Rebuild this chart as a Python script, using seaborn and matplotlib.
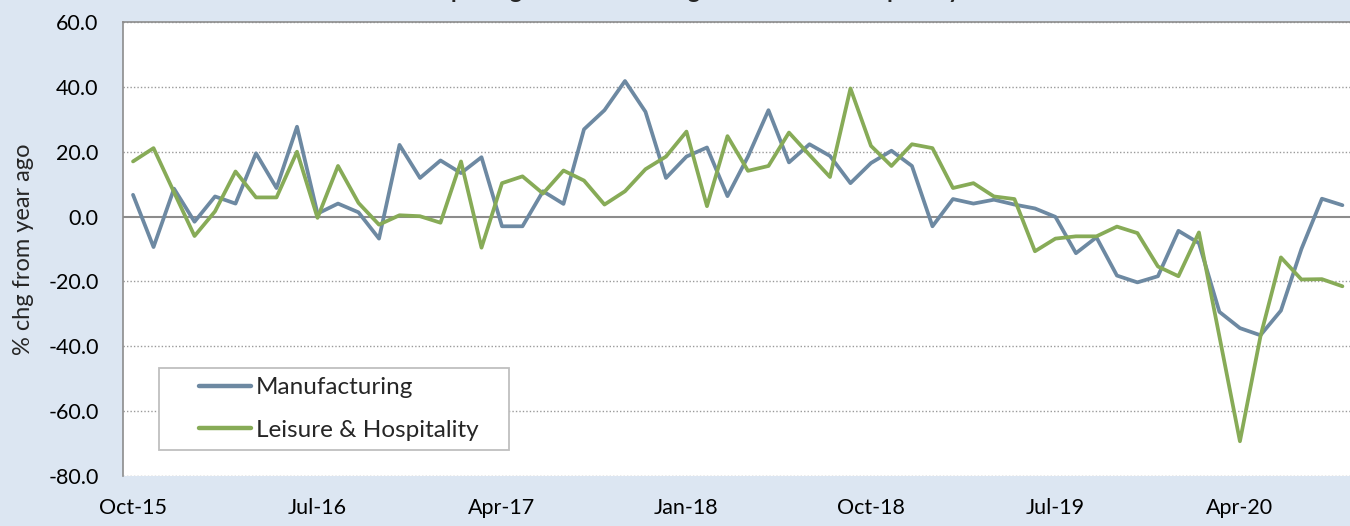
import pandas as pd
import numpy as np
import matplotlib
matplotlib.use('Agg')
import matplotlib.pyplot as plt
from matplotlib.patches import Rectangle
import seaborn as sns

# monthly, Oct-15 .. Sep-20
months = pd.date_range('2015-10-01', periods=60, freq='MS')

manufacturing = [6.7, -9.4, 8.6, -1.6, 6.2, 4.0, 19.5, 8.8, 27.7, 0.9,
                 4.0, 1.3, -6.8, 22.1, 11.9, 17.3, 13.4, 18.3, -3.0, -3.0,
                 7.8, 3.9, 26.9, 32.8, 41.8, 32.3, 11.9, 18.5, 21.3, 6.3,
                 18.5, 32.8, 16.7, 22.3, 18.7, 10.3, 16.5, 20.3, 15.6, -3.0,
                 5.4, 4.0, 5.2, 3.7, 2.5, -0.1, -11.3, -6.4, -18.2, -20.3,
                 -18.4, -4.4, -8.2, -29.4, -34.4, -36.6, -29.0, -10.0, 5.5, 3.5]

leisure = [17.0, 21.1, 7.5, -6.0, 1.6, 13.9, 5.9, 5.9, 20.0, -0.4,
           15.6, 4.2, -2.5, 0.4, 0.1, -1.9, 17.0, -9.6, 10.3, 12.4,
           7.1, 14.2, 11.1, 3.7, 7.8, 14.6, 18.5, 26.2, 3.2, 24.8,
           14.1, 15.6, 25.9, 19.0, 12.2, 39.5, 21.8, 15.6, 22.3, 21.1,
           8.8, 10.3, 6.2, 5.4, -10.7, -6.8, -6.1, -6.1, -3.1, -5.1,
           -15.4, -18.4, -4.9, -37.0, -69.3, -37.0, -12.6, -19.4, -19.3, -21.5]

series_names = ['Manufacturing', 'Leisure & Hospitality']
colors = {'Manufacturing': '#6d89a2', 'Leisure & Hospitality': '#87ab57'}

yticks = [60, 40, 20, 0, -20, -40, -60, -80]
xtick_step = 9

bg = '#dce6f2'
font = 'Lato'

df = pd.DataFrame({'idx': np.arange(len(months)),
                   'Manufacturing': manufacturing,
                   'Leisure & Hospitality': leisure})
df_long = df.melt(id_vars='idx', var_name='series', value_name='value')

sns.set_style('white')
plt.rcParams['font.family'] = [font, 'DejaVu Sans']

fig = plt.figure(figsize=(13.5, 5.26), dpi=100, facecolor=bg)
ax = fig.add_axes([0.0911, 0.0951, 0.9089, 0.8631])
ax.set_facecolor('white')

# gridlines
for y in yticks:
    if y == 0:
        continue
    ax.axhline(y, color='#9a9a9a', lw=1.0, ls=(0, (1, 1.5)), zorder=1)
ax.axhline(0, color='#8c8c8c', lw=1.5, zorder=2)

sns.lineplot(data=df_long, x='idx', y='value', hue='series', hue_order=series_names,
             palette=colors, lw=2.7, ax=ax, legend=False, zorder=3)

ax.set_xlim(-0.49, 59.37)
ax.set_ylim(-80, 60)
ax.set_yticks(yticks)
ax.set_yticklabels([f'{v:.1f}' for v in yticks])
xt = list(range(0, len(months), xtick_step))
ax.set_xticks(xt)
ax.set_xticklabels([months[i].strftime('%b-%y') for i in xt])

ax.tick_params(axis='y', length=6.5, width=1, color='#8c8c8c', pad=11, labelsize=15.5)
ax.tick_params(axis='x', length=0, pad=16, labelsize=15.5)
for lab in ax.get_xticklabels() + ax.get_yticklabels():
    lab.set_color('black')

for s in ['right', 'bottom']:
    ax.spines[s].set_visible(False)
ax.spines['left'].set_color('#8c8c8c')
ax.spines['left'].set_linewidth(1.2)
ax.spines['top'].set_color('#8c8c8c')
ax.spines['top'].set_linewidth(1.2)

ax.set_xlabel('')
ax.set_ylabel('% chg from year ago', fontsize=17, labelpad=10)

# legend
ax.add_patch(Rectangle((0.0293, 0.0573), 0.2852, 0.1806, transform=ax.transAxes,
                       facecolor='white', edgecolor='#bfbfbf', lw=1.3, zorder=4))
handles = [plt.Line2D([], [], color=colors[n], lw=3.2) for n in series_names]
leg = ax.legend(handles, series_names, loc='center left', bbox_to_anchor=(0.046, 0.1476),
                frameon=False, fontsize=17.5, handlelength=2.15, handletextpad=0.2,
                labelspacing=0.89, borderpad=0.3)
leg.set_zorder(5)

fig.text(0.5, 1.004, 'Job Openings: Manufacturing vs. Leisure & Hospitality',
         ha='center', va='baseline', fontsize=17, fontweight='bold')

plt.savefig('out.png', dpi=100, facecolor=bg)
